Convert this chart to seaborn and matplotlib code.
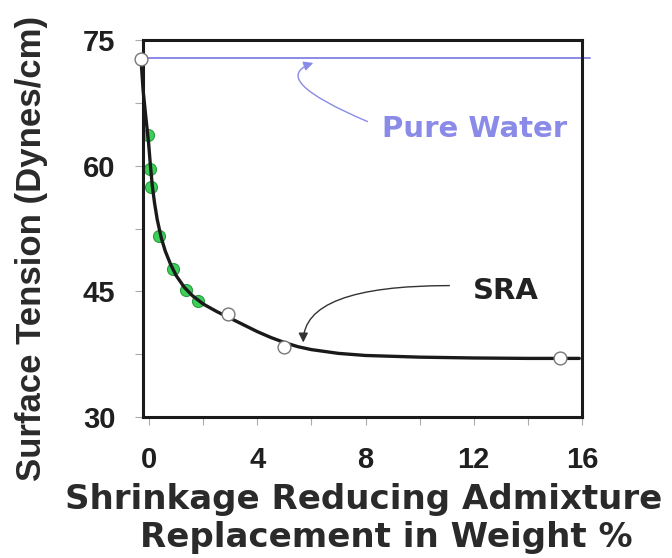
import matplotlib
matplotlib.use("Agg")
import matplotlib.pyplot as plt
import seaborn as sns
from matplotlib.ticker import MultipleLocator

# ---- data ----
curve_x = [-0.3, -0.22, -0.12, -0.02, 0.05, 0.12, 0.2, 0.3, 0.45, 0.6, 0.8, 1.0, 1.3, 1.6,
           2.0, 2.5, 3.0, 3.5, 4.0, 4.5, 5.0, 5.5, 6.0, 7.0, 8.0, 10.0, 12.0, 14.0, 15.9]
curve_y = [72.8, 69.0, 65.8, 62.8, 60.0, 57.6, 55.6, 53.6, 51.4, 49.8, 48.2, 46.9, 45.5, 44.5,
           43.5, 42.6, 41.8, 41.0, 40.2, 39.5, 38.9, 38.4, 38.05, 37.6, 37.35, 37.15, 37.05, 37.0, 37.0]

green_x = [-0.05, 0.05, 0.08, 0.37, 0.89, 1.37, 1.8]
green_y = [63.7, 59.6, 57.5, 51.6, 47.7, 45.2, 43.9]

open_x = [-0.3, 2.93, 5.0, 15.2]
open_y = [72.8, 42.3, 38.4, 37.0]

water_x = [-0.22, 16.3]
water_y = [72.95, 72.95]

x_ticks = [0, 4, 8, 12, 16]
y_ticks = [30, 45, 60, 75]

FONT = "Liberation Sans"
WIDE = "DejaVu Sans"
sns.set_theme(style="white")
plt.rcParams["font.family"] = [FONT, "DejaVu Sans"]

fig = plt.figure(figsize=(6.72, 5.58), dpi=100)
ax = fig.add_axes([0.213, 0.2527, 0.653, 0.675])

water_color = "#8a8ae8"
sns.lineplot(x=water_x, y=water_y, ax=ax, color=water_color, lw=1.4,
             sort=False, clip_on=False, zorder=2)
sns.scatterplot(x=green_x, y=green_y, ax=ax, color="#3ccf5a", edgecolor="#2a9a40",
                s=75, linewidth=0.8, zorder=2.5)
sns.lineplot(x=curve_x, y=curve_y, ax=ax, color="#1a1a1a", lw=2.4,
             sort=False, zorder=3, clip_on=False)
sns.scatterplot(x=open_x, y=open_y, ax=ax, facecolor="white", edgecolor="#777777",
                s=85, linewidth=1.0, zorder=5, clip_on=False)

ax.set_xlim(-0.22, 16)
ax.set_ylim(30, 75)
ax.set_xticks(x_ticks)
ax.set_yticks(y_ticks)
ax.xaxis.set_minor_locator(MultipleLocator(2))
ax.yaxis.set_minor_locator(MultipleLocator(7.5))
ax.tick_params(axis="both", which="both", direction="out", color="#aaaaaa",
               width=0.8, length=6, bottom=True, left=True)
ax.tick_params(axis="x", which="major", pad=15, labelsize=21, labelcolor="#1f1f1f")
ax.tick_params(axis="y", which="major", pad=14, labelsize=21, labelcolor="#1f1f1f")
for lab in ax.get_xticklabels() + ax.get_yticklabels():
    lab.set_fontweight("bold")

for sp in ax.spines.values():
    sp.set_visible(True)
    sp.set_color("#1a1a1a")
    sp.set_linewidth(2.2)

ax.set_xlabel("")
ax.set_ylabel("")

fig.text(364 / 672, 1 - 500 / 558, "Shrinkage Reducing Admixture", ha="center", va="center",
         fontsize=24.5, fontweight="bold", color="#2a2a2a", family=[WIDE])
fig.text(386 / 672, 1 - 538 / 558, "Replacement in Weight %", ha="center", va="center",
         fontsize=24.5, fontweight="bold", color="#2a2a2a", family=[WIDE])
fig.text(32 / 672, 1 - 248 / 558, "Surface Tension (Dynes/cm)", ha="center", va="center",
         rotation=90, fontsize=25, fontweight="bold", color="#2a2a2a")

# Annotations
ax.text(12.04, 64.4, "Pure Water", ha="center", va="center", fontsize=21,
        fontweight="bold", color=water_color, family=[WIDE])
ax.annotate("", xy=(6.07, 72.3), xytext=(8.07, 65.3),
            arrowprops=dict(arrowstyle="-|>", color=water_color, lw=1.0,
                            shrinkA=0, shrinkB=0, mutation_scale=14,
                            connectionstyle="angle3,angleA=157,angleB=19"))

ax.text(13.2, 45.1, "SRA", ha="center", va="center", fontsize=21,
        fontweight="bold", color="#222222", family=[WIDE])
ax.annotate("", xy=(5.7, 38.9), xytext=(11.1, 45.7),
            arrowprops=dict(arrowstyle="-|>", color="#333333", lw=1.0,
                            shrinkA=0, shrinkB=0, mutation_scale=14,
                            connectionstyle="angle3,angleA=0,angleB=90"))

fig.savefig("out.png", dpi=100)
